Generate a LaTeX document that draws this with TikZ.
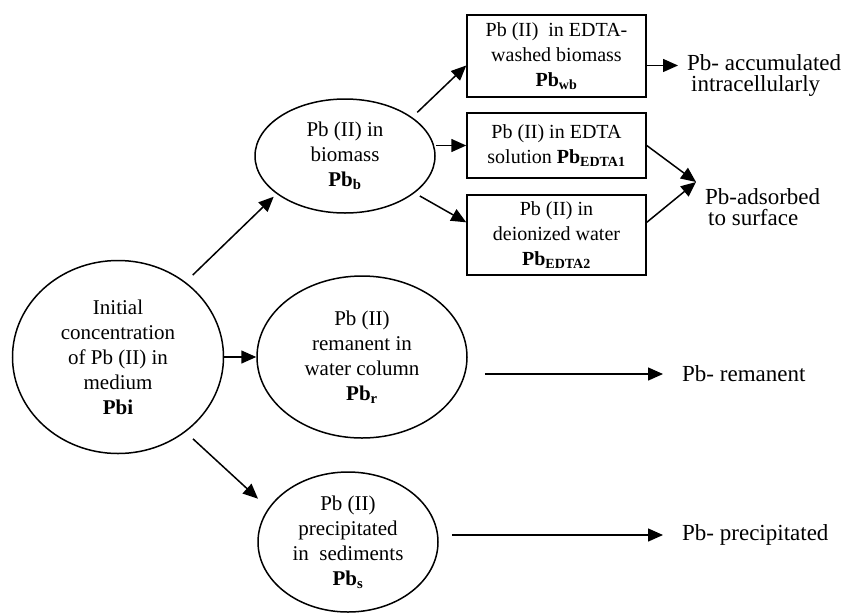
\documentclass[tikz,border=0pt]{standalone}
\usepackage{fontspec}
\setmainfont{Liberation Serif}
\usetikzlibrary{shapes.geometric,arrows.meta}
\tikzset{>={Triangle[length=15pt,width=13pt]}}
\tikzset{
  pool/.style={ellipse,draw,line width=1.5pt,inner sep=0pt,align=center,
    font=\fontsize{21}{25}\selectfont},
  part/.style={rectangle,draw,line width=1.5pt,minimum width=179pt,inner sep=0pt,
    align=center,font=\fontsize{20}{25}\selectfont},
  fate/.style={align=left,inner sep=0pt,font=\fontsize{23}{21}\selectfont},
  flow/.style={->,line width=1.5pt}
}

\begin{document}
\begin{tikzpicture}[x=1pt,y=-1pt]
  \useasboundingbox (0,0) rectangle (845,614);

  % lead pools
  \node[pool,minimum width=211pt,minimum height=193pt] (pbi) at (118,357)
    {Initial\\concentration\\of Pb (II) in\\medium\\\textbf{Pbi}};
  \node[pool,minimum width=180pt,minimum height=114pt] (pbb) at (345,156)
    {Pb (II) in\\biomass\\\textbf{Pb\textsubscript{b}}};
  \node[pool,minimum width=210pt,minimum height=162pt] (pbr) at (362,357)
    {Pb (II)\\remanent in\\water column\\\textbf{Pb\textsubscript{r}}};
  \node[pool,minimum width=180pt,minimum height=140pt] (pbs) at (348,542)
    {Pb (II)\\precipitated\\in~ sediments\\\textbf{Pb\textsubscript{s}}};

  % biomass fractions
  \node[part,minimum height=82pt] (wb) at (556.5,56)
    {Pb (II)~ in EDTA-\\washed biomass\\\textbf{Pb\textsubscript{wb}}};
  \node[part,minimum height=65pt] (edta1) at (556.5,145.5)
    {Pb (II) in EDTA\\solution \textbf{Pb\textsubscript{EDTA1}}};
  \node[part,minimum height=80pt] (edta2) at (556.5,235)
    {Pb (II) in\\deionized water\\\textbf{Pb\textsubscript{EDTA2}}};

  % fates
  \node[fate,anchor=west] (accum) at (687,75)
    {Pb- accumulated\\\hspace{4pt}intracellularly};
  \node[fate,anchor=north west] (adsorb) at (705,188)
    {Pb-adsorbed\\\hspace{3pt}to surface};
  \node[fate,anchor=west] (reman) at (682,374) {Pb- remanent};
  \node[fate,anchor=west] (precip) at (682,535) {Pb- precipitated};
  \coordinate (meet) at (696,182);

  % arrows
  \draw[flow,shorten <=10pt,shorten >=4pt] (pbi.48) -- (pbb.209);
  \draw[flow] (pbi.east) -- (pbr.west);
  \draw[flow,shorten <=10pt,shorten >=14pt] (pbi.-48) -- (pbs.157);
  \draw[flow,shorten <=7pt] (pbb.30) -- (wb.186);
  \draw[flow] (pbb.east |- edta1.west) -- (edta1.west);
  \draw[flow,shorten <=6pt] (pbb.-28) -- (edta2.172);
  \draw[flow,shorten >=9pt] (wb.-6) -- (accum.west |- wb.-6);
  \draw[flow] (edta1.east) -- (meet);
  \draw[flow] (edta2.8) -- (meet);
  \draw[flow,shorten <=17pt,shorten >=19pt] (pbr.east |- reman.west) -- (reman.west);
  \draw[flow,shorten <=13pt,shorten >=19pt] (pbs.east |- precip.west) -- (precip.west);
\end{tikzpicture}
\end{document}
